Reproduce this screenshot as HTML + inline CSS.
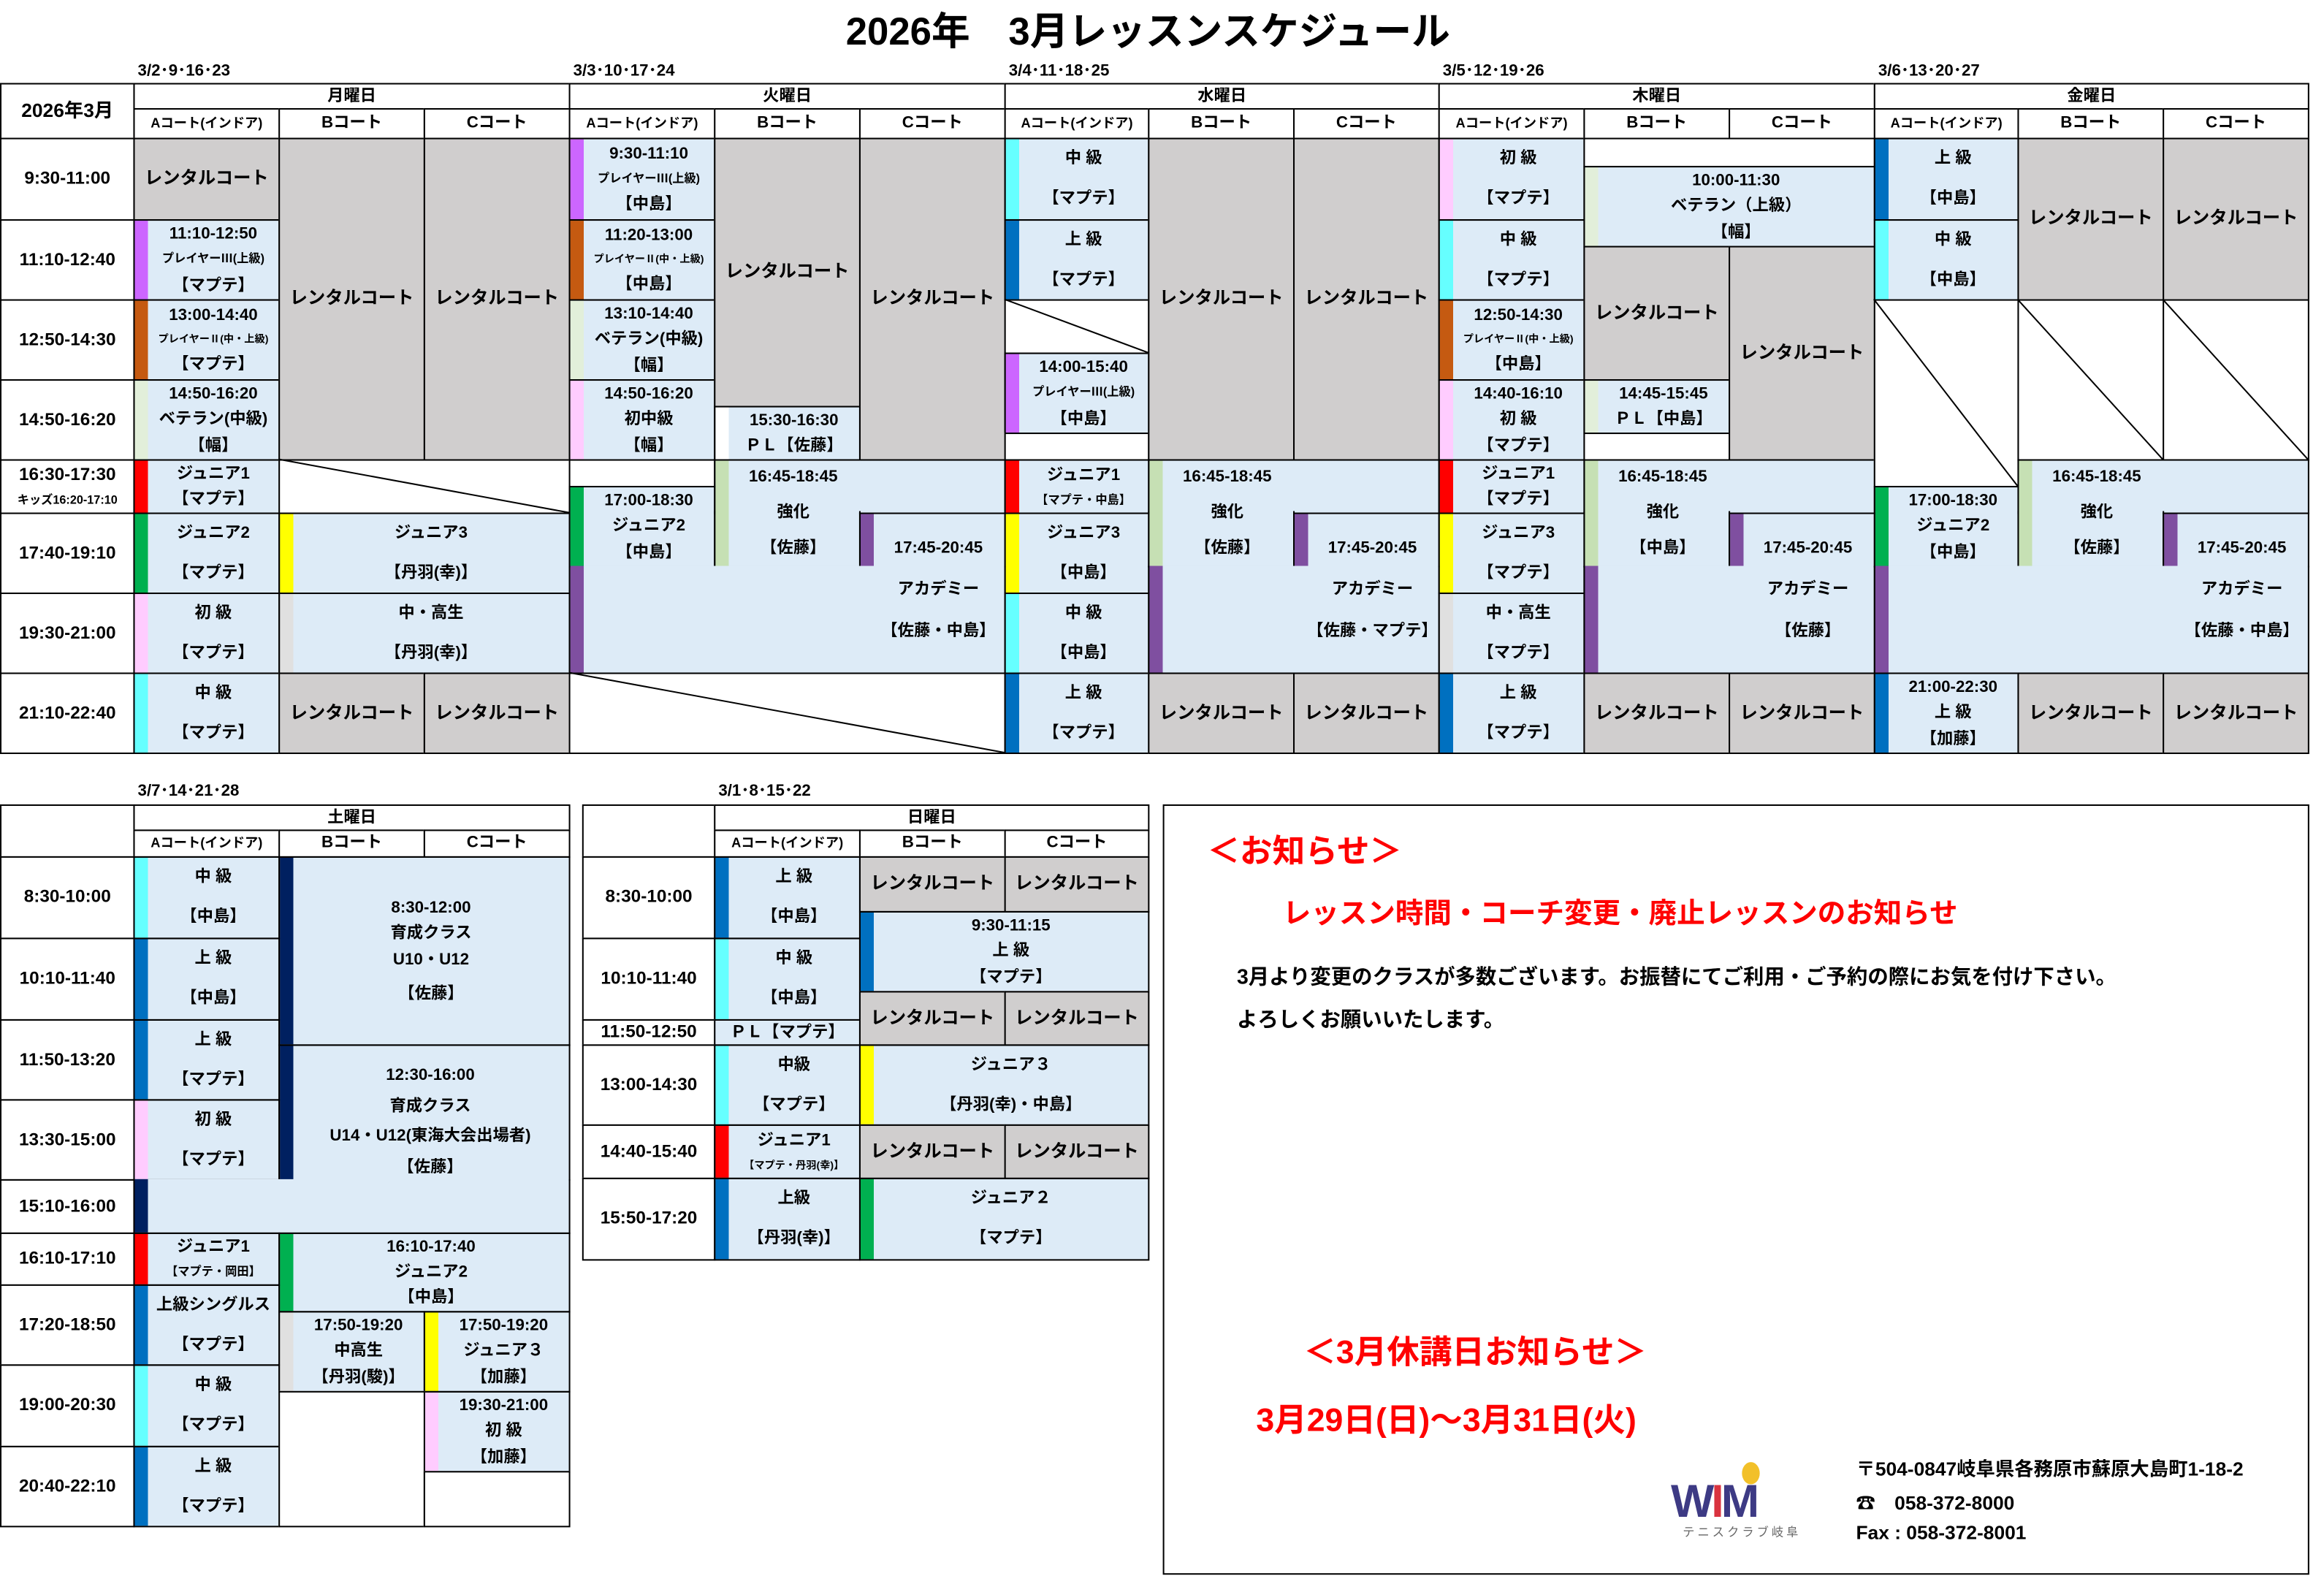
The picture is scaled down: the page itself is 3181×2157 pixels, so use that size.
<!DOCTYPE html>
<html><head><meta charset="utf-8"><style>
html,body{margin:0;padding:0;background:#fff;width:3181px;height:2156px;overflow:hidden}
#s{position:absolute;left:0;top:0;width:1569px;height:1064px;transform:scale(2.0275);transform-origin:0 0;font-family:"Liberation Sans","Noto Sans CJK JP",sans-serif;font-weight:bold;color:#000}
.c{position:absolute;box-sizing:border-box;border:1px solid #000;background:#ddebf7;display:flex;flex-direction:column;justify-content:space-around;align-items:center;text-align:center;font-size:11px;line-height:1.1;white-space:nowrap;overflow:hidden}
.t{position:absolute;display:flex;flex-direction:column;justify-content:space-around;align-items:center;text-align:center;font-size:11px;line-height:1.1;white-space:nowrap}
.w{background:#fff}.g{background:#d0cece;font-size:12px;justify-content:center}
.h{background:#fff;justify-content:center;font-size:12px}
.s{padding-left:9px}
.pu{background:linear-gradient(90deg,#cc66ff 9px,#ddebf7 9px)}
.or{background:linear-gradient(90deg,#c55a11 9px,#ddebf7 9px)}
.lg{background:linear-gradient(90deg,#e2efda 9px,#ddebf7 9px)}
.kg{background:linear-gradient(90deg,#c6e0b4 9px,#ddebf7 9px)}
.pk{background:linear-gradient(90deg,#ffccff 9px,#ddebf7 9px)}
.rd{background:linear-gradient(90deg,#ff0000 9px,#ddebf7 9px)}
.gr{background:linear-gradient(90deg,#00b050 9px,#ddebf7 9px)}
.ye{background:linear-gradient(90deg,#ffff00 9px,#ddebf7 9px)}
.ly{background:linear-gradient(90deg,#e0e0e0 9px,#ddebf7 9px)}
.cy{background:linear-gradient(90deg,#66ffff 9px,#ddebf7 9px)}
.bl{background:linear-gradient(90deg,#0070c0 9px,#ddebf7 9px)}
.na{background:linear-gradient(90deg,#002060 9px,#ddebf7 9px)}
.ac{background:linear-gradient(90deg,#7f4fa0 9px,#ddebf7 9px)}
.wh{background:linear-gradient(90deg,#ffffff 9px,#ddebf7 9px)}
.sm{font-size:8px}.xs{font-size:7px}
.dt{position:absolute;font-size:11px;top:39px}
.r{position:absolute;color:#f00;white-space:nowrap}
</style></head><body><div id="s">
<div style="position:absolute;left:0;width:1550px;top:1px;text-align:center;font-size:26px">2026年　3月レッスンスケジュール</div>
<div class="dt" style="left:93px">3/2･9･16･23</div>
<div class="dt" style="left:387px">3/3･10･17･24</div>
<div class="dt" style="left:681px">3/4･11･18･25</div>
<div class="dt" style="left:974px">3/5･12･19･26</div>
<div class="dt" style="left:1268px">3/6･13･20･27</div>

<div class="c h" style="left:0;top:56px;width:91px;height:38px;font-size:13px">2026年3月</div>
<div class="c h" style="left:90px;top:56px;width:295px;height:18px;font-size:11px">月曜日</div>
<div class="c h" style="left:384px;top:56px;width:295px;height:18px;font-size:11px">火曜日</div>
<div class="c h" style="left:678px;top:56px;width:294px;height:18px;font-size:11px">水曜日</div>
<div class="c h" style="left:971px;top:56px;width:295px;height:18px;font-size:11px">木曜日</div>
<div class="c h" style="left:1265px;top:56px;width:294px;height:18px;font-size:11px">金曜日</div>
<div class="c h" style="left:90px;top:73px;width:99px;height:21px;font-size:9px">Aコート(インドア)</div><div class="c h" style="left:188px;top:73px;width:99px;height:21px;font-size:11px">Bコート</div><div class="c h" style="left:286px;top:73px;width:99px;height:21px;font-size:11px">Cコート</div>
<div class="c h" style="left:384px;top:73px;width:99px;height:21px;font-size:9px">Aコート(インドア)</div><div class="c h" style="left:482px;top:73px;width:99px;height:21px;font-size:11px">Bコート</div><div class="c h" style="left:580px;top:73px;width:99px;height:21px;font-size:11px">Cコート</div>
<div class="c h" style="left:678px;top:73px;width:98px;height:21px;font-size:9px">Aコート(インドア)</div><div class="c h" style="left:775px;top:73px;width:99px;height:21px;font-size:11px">Bコート</div><div class="c h" style="left:873px;top:73px;width:99px;height:21px;font-size:11px">Cコート</div>
<div class="c h" style="left:971px;top:73px;width:99px;height:21px;font-size:9px">Aコート(インドア)</div><div class="c h" style="left:1069px;top:73px;width:99px;height:21px;font-size:11px">Bコート</div><div class="c h" style="left:1167px;top:73px;width:99px;height:21px;font-size:11px">Cコート</div>
<div class="c h" style="left:1265px;top:73px;width:98px;height:21px;font-size:9px">Aコート(インドア)</div><div class="c h" style="left:1362px;top:73px;width:99px;height:21px;font-size:11px">Bコート</div><div class="c h" style="left:1460px;top:73px;width:99px;height:21px;font-size:11px">Cコート</div>

<div class="c h" style="left:0;top:93px;width:91px;height:56px">9:30-11:00</div>
<div class="c h" style="left:0;top:148px;width:91px;height:55px">11:10-12:40</div>
<div class="c h" style="left:0;top:202px;width:91px;height:55px">12:50-14:30</div>
<div class="c h" style="left:0;top:256px;width:91px;height:55px">14:50-16:20</div>
<div class="c h" style="left:0;top:310px;width:91px;height:37px;justify-content:space-around">16:30-17:30<span style="font-size:8px">キッズ16:20-17:10</span></div>
<div class="c h" style="left:0;top:346px;width:91px;height:55px">17:40-19:10</div>
<div class="c h" style="left:0;top:400px;width:91px;height:55px">19:30-21:00</div>
<div class="c h" style="left:0;top:454px;width:91px;height:55px">21:10-22:40</div>

<div class="c g" style="left:90px;top:93px;width:99px;height:56px">レンタルコート</div>
<div class="c s pu" style="left:90px;top:148px;width:99px;height:55px"><span>11:10-12:50</span><span class="sm">プレイヤーⅢ(上級)</span><span>【マプテ】</span></div>
<div class="c s or" style="left:90px;top:202px;width:99px;height:55px"><span>13:00-14:40</span><span class="xs">プレイヤーⅡ(中・上級)</span><span>【マプテ】</span></div>
<div class="c s lg" style="left:90px;top:256px;width:99px;height:55px"><span>14:50-16:20</span><span>ベテラン(中級)</span><span>【幅】</span></div>
<div class="c g" style="left:188px;top:93px;width:99px;height:218px">レンタルコート</div>
<div class="c g" style="left:286px;top:93px;width:99px;height:218px">レンタルコート</div>
<div class="c s rd" style="left:90px;top:310px;width:99px;height:37px"><span>ジュニア1</span><span>【マプテ】</span></div>
<div class="c w" style="left:188px;top:310px;width:197px;height:37px"></div>
<div class="c s gr" style="left:90px;top:346px;width:99px;height:55px"><span>ジュニア2</span><span>【マプテ】</span></div>
<div class="c s ye" style="left:188px;top:346px;width:197px;height:55px"><span>ジュニア3</span><span>【丹羽(幸)】</span></div>
<div class="c s pk" style="left:90px;top:400px;width:99px;height:55px"><span>初 級</span><span>【マプテ】</span></div>
<div class="c s ly" style="left:188px;top:400px;width:197px;height:55px"><span>中・高生</span><span>【丹羽(幸)】</span></div>
<div class="c s cy" style="left:90px;top:454px;width:99px;height:55px"><span>中 級</span><span>【マプテ】</span></div>
<div class="c g" style="left:188px;top:454px;width:99px;height:55px">レンタルコート</div>
<div class="c g" style="left:286px;top:454px;width:99px;height:55px">レンタルコート</div>

<div class="c s pu" style="left:384px;top:93px;width:99px;height:56px"><span>9:30-11:10</span><span class="sm">プレイヤーⅢ(上級)</span><span>【中島】</span></div>
<div class="c s or" style="left:384px;top:148px;width:99px;height:55px"><span>11:20-13:00</span><span class="xs">プレイヤーⅡ(中・上級)</span><span>【中島】</span></div>
<div class="c s lg" style="left:384px;top:202px;width:99px;height:55px"><span>13:10-14:40</span><span>ベテラン(中級)</span><span>【幅】</span></div>
<div class="c s pk" style="left:384px;top:256px;width:99px;height:55px"><span>14:50-16:20</span><span>初中級</span><span>【幅】</span></div>
<div class="c g" style="left:482px;top:93px;width:99px;height:182px">レンタルコート</div>
<div class="c s wh" style="left:482px;top:274px;width:99px;height:37px"><span>15:30-16:30</span><span>ＰＬ【佐藤】</span></div>
<div class="c g" style="left:580px;top:93px;width:99px;height:218px">レンタルコート</div>
<div class="c w" style="left:384px;top:310px;width:99px;height:19px"></div>
<div class="c s gr" style="left:384px;top:328px;width:99px;height:55px"><span>17:00-18:30</span><span>ジュニア2</span><span>【中島】</span></div>
<div class="c s kg" style="left:482px;top:310px;width:197px;height:37px;border-bottom:none"></div>
<div class="c s kg" style="left:482px;top:345px;width:99px;height:38px;border-top:none"></div>
<div class="t" style="left:491px;top:310px;width:89px;height:72px"><span>16:45-18:45</span><span>強化</span><span>【佐藤】</span></div>
<div class="c s ac" style="left:580px;top:346px;width:99px;height:37px;border-bottom:none"></div>
<div class="c s ac" style="left:384px;top:382px;width:295px;height:73px;border-top:none"></div>
<div class="t" style="left:589px;top:356px;width:89px;height:84px"><span>17:45-20:45</span><span>アカデミー</span><span>【佐藤・中島】</span></div>
<div class="c w" style="left:384px;top:454px;width:295px;height:55px"></div>

<div class="c s cy" style="left:678px;top:93px;width:98px;height:56px"><span>中 級</span><span>【マプテ】</span></div>
<div class="c s bl" style="left:678px;top:148px;width:98px;height:55px"><span>上 級</span><span>【マプテ】</span></div>
<div class="c w" style="left:678px;top:202px;width:98px;height:37px"></div>
<div class="c s pu" style="left:678px;top:238px;width:98px;height:55px"><span>14:00-15:40</span><span class="sm">プレイヤーⅢ(上級)</span><span>【中島】</span></div>
<div class="c w" style="left:678px;top:292px;width:98px;height:19px"></div>
<div class="c g" style="left:775px;top:93px;width:99px;height:218px">レンタルコート</div>
<div class="c g" style="left:873px;top:93px;width:99px;height:218px">レンタルコート</div>
<div class="c s rd" style="left:678px;top:310px;width:98px;height:37px"><span>ジュニア1</span><span class="sm">【マプテ・中島】</span></div>
<div class="c s ye" style="left:678px;top:346px;width:98px;height:55px"><span>ジュニア3</span><span>【中島】</span></div>
<div class="c s cy" style="left:678px;top:400px;width:98px;height:55px"><span>中 級</span><span>【中島】</span></div>
<div class="c s bl" style="left:678px;top:454px;width:98px;height:55px"><span>上 級</span><span>【マプテ】</span></div>
<div class="c s kg" style="left:775px;top:310px;width:197px;height:37px;border-bottom:none"></div>
<div class="c s kg" style="left:775px;top:345px;width:99px;height:38px;border-top:none"></div>
<div class="t" style="left:784px;top:310px;width:89px;height:72px"><span>16:45-18:45</span><span>強化</span><span>【佐藤】</span></div>
<div class="c s ac" style="left:873px;top:346px;width:99px;height:37px;border-bottom:none"></div>
<div class="c s ac" style="left:775px;top:382px;width:197px;height:73px;border-top:none"></div>
<div class="t" style="left:882px;top:356px;width:89px;height:84px"><span>17:45-20:45</span><span>アカデミー</span><span>【佐藤・マプテ】</span></div>
<div class="c g" style="left:775px;top:454px;width:99px;height:55px">レンタルコート</div>
<div class="c g" style="left:873px;top:454px;width:99px;height:55px">レンタルコート</div>

<div class="c s pk" style="left:971px;top:93px;width:99px;height:56px"><span>初 級</span><span>【マプテ】</span></div>
<div class="c s cy" style="left:971px;top:148px;width:99px;height:55px"><span>中 級</span><span>【マプテ】</span></div>
<div class="c s or" style="left:971px;top:202px;width:99px;height:55px"><span>12:50-14:30</span><span class="xs">プレイヤーⅡ(中・上級)</span><span>【中島】</span></div>
<div class="c s pk" style="left:971px;top:256px;width:99px;height:55px"><span>14:40-16:10</span><span>初 級</span><span>【マプテ】</span></div>
<div class="c w" style="left:1069px;top:93px;width:197px;height:20px"></div>
<div class="c s lg" style="left:1069px;top:112px;width:197px;height:55px"><span>10:00-11:30</span><span>ベテラン（上級）</span><span>【幅】</span></div>
<div class="c g" style="left:1069px;top:166px;width:99px;height:91px">レンタルコート</div>
<div class="c s lg" style="left:1069px;top:256px;width:99px;height:37px"><span>14:45-15:45</span><span>ＰＬ【中島】</span></div>
<div class="c w" style="left:1069px;top:292px;width:99px;height:19px"></div>
<div class="c g" style="left:1167px;top:166px;width:99px;height:145px">レンタルコート</div>
<div class="c s rd" style="left:971px;top:310px;width:99px;height:37px"><span>ジュニア1</span><span>【マプテ】</span></div>
<div class="c s ye" style="left:971px;top:346px;width:99px;height:55px"><span>ジュニア3</span><span>【マプテ】</span></div>
<div class="c s ly" style="left:971px;top:400px;width:99px;height:55px"><span>中・高生</span><span>【マプテ】</span></div>
<div class="c s bl" style="left:971px;top:454px;width:99px;height:55px"><span>上 級</span><span>【マプテ】</span></div>
<div class="c s kg" style="left:1069px;top:310px;width:197px;height:37px;border-bottom:none"></div>
<div class="c s kg" style="left:1069px;top:345px;width:99px;height:38px;border-top:none"></div>
<div class="t" style="left:1078px;top:310px;width:89px;height:72px"><span>16:45-18:45</span><span>強化</span><span>【中島】</span></div>
<div class="c s ac" style="left:1167px;top:346px;width:99px;height:37px;border-bottom:none"></div>
<div class="c s ac" style="left:1069px;top:382px;width:197px;height:73px;border-top:none"></div>
<div class="t" style="left:1176px;top:356px;width:89px;height:84px"><span>17:45-20:45</span><span>アカデミー</span><span>【佐藤】</span></div>
<div class="c g" style="left:1069px;top:454px;width:99px;height:55px">レンタルコート</div>
<div class="c g" style="left:1167px;top:454px;width:99px;height:55px">レンタルコート</div>

<div class="c s bl" style="left:1265px;top:93px;width:98px;height:56px"><span>上 級</span><span>【中島】</span></div>
<div class="c s cy" style="left:1265px;top:148px;width:98px;height:55px"><span>中 級</span><span>【中島】</span></div>
<div class="c g" style="left:1362px;top:93px;width:99px;height:110px">レンタルコート</div>
<div class="c g" style="left:1460px;top:93px;width:99px;height:110px">レンタルコート</div>
<div class="c w" style="left:1265px;top:202px;width:98px;height:127px"></div>
<div class="c w" style="left:1362px;top:202px;width:99px;height:109px"></div>
<div class="c w" style="left:1460px;top:202px;width:99px;height:109px"></div>
<div class="c s gr" style="left:1265px;top:328px;width:98px;height:55px"><span>17:00-18:30</span><span>ジュニア2</span><span>【中島】</span></div>
<div class="c s kg" style="left:1362px;top:310px;width:197px;height:37px;border-bottom:none"></div>
<div class="c s kg" style="left:1362px;top:345px;width:99px;height:38px;border-top:none"></div>
<div class="t" style="left:1371px;top:310px;width:89px;height:72px"><span>16:45-18:45</span><span>強化</span><span>【佐藤】</span></div>
<div class="c s ac" style="left:1460px;top:346px;width:99px;height:37px;border-bottom:none"></div>
<div class="c s ac" style="left:1265px;top:382px;width:294px;height:73px;border-top:none"></div>
<div class="t" style="left:1469px;top:356px;width:89px;height:84px"><span>17:45-20:45</span><span>アカデミー</span><span>【佐藤・中島】</span></div>
<div class="c s bl" style="left:1265px;top:454px;width:98px;height:55px"><span>21:00-22:30</span><span>上 級</span><span>【加藤】</span></div>
<div class="c g" style="left:1362px;top:454px;width:99px;height:55px">レンタルコート</div>
<div class="c g" style="left:1460px;top:454px;width:99px;height:55px">レンタルコート</div>

<div class="dt" style="left:93px;top:525px">3/7･14･21･28</div>
<div class="c h" style="left:0;top:543px;width:91px;height:36px"></div>
<div class="c h" style="left:90px;top:543px;width:295px;height:18px;font-size:11px">土曜日</div>
<div class="c h" style="left:90px;top:560px;width:99px;height:19px;font-size:9px">Aコート(インドア)</div><div class="c h" style="left:188px;top:560px;width:99px;height:19px;font-size:11px">Bコート</div><div class="c h" style="left:286px;top:560px;width:99px;height:19px;font-size:11px">Cコート</div>
<div class="c h" style="left:0;top:578px;width:91px;height:56px">8:30-10:00</div>
<div class="c h" style="left:0;top:633px;width:91px;height:56px">10:10-11:40</div>
<div class="c h" style="left:0;top:688px;width:91px;height:55px">11:50-13:20</div>
<div class="c h" style="left:0;top:742px;width:91px;height:55px">13:30-15:00</div>
<div class="c h" style="left:0;top:796px;width:91px;height:37px">15:10-16:00</div>
<div class="c h" style="left:0;top:832px;width:91px;height:36px">16:10-17:10</div>
<div class="c h" style="left:0;top:867px;width:91px;height:55px">17:20-18:50</div>
<div class="c h" style="left:0;top:921px;width:91px;height:56px">19:00-20:30</div>
<div class="c h" style="left:0;top:976px;width:91px;height:55px">20:40-22:10</div>
<div class="c s cy" style="left:90px;top:578px;width:99px;height:56px"><span>中 級</span><span>【中島】</span></div>
<div class="c s bl" style="left:90px;top:633px;width:99px;height:56px"><span>上 級</span><span>【中島】</span></div>
<div class="c s bl" style="left:90px;top:688px;width:99px;height:55px"><span>上 級</span><span>【マプテ】</span></div>
<div class="c s pk" style="left:90px;top:742px;width:99px;height:55px"><span>初 級</span><span>【マプテ】</span></div>
<div class="c s na" style="left:188px;top:578px;width:197px;height:128px;justify-content:center;gap:5px"><span>8:30-12:00</span><span>育成クラス</span><span>U10・U12</span><span style="margin-top:6px">【佐藤】</span></div>
<div class="c s na" style="left:188px;top:705px;width:197px;height:92px;border-bottom:none"></div>
<div class="c s na" style="left:90px;top:796px;width:295px;height:37px;border-top:none"></div>
<div class="t" style="left:197px;top:720px;width:187px;height:74px;justify-content:space-between"><span>12:30-16:00</span><span>育成クラス</span><span>U14・U12(東海大会出場者)</span><span>【佐藤】</span></div>
<div class="c s rd" style="left:90px;top:832px;width:99px;height:36px"><span>ジュニア1</span><span class="sm">【マプテ・岡田】</span></div>
<div class="c s bl" style="left:90px;top:867px;width:99px;height:55px"><span>上級シングルス</span><span>【マプテ】</span></div>
<div class="c s cy" style="left:90px;top:921px;width:99px;height:56px"><span>中 級</span><span>【マプテ】</span></div>
<div class="c s bl" style="left:90px;top:976px;width:99px;height:55px"><span>上 級</span><span>【マプテ】</span></div>
<div class="c s gr" style="left:188px;top:832px;width:197px;height:54px"><span>16:10-17:40</span><span>ジュニア2</span><span>【中島】</span></div>
<div class="c s ly" style="left:188px;top:885px;width:99px;height:55px"><span>17:50-19:20</span><span>中高生</span><span>【丹羽(駿)】</span></div>
<div class="c s ye" style="left:286px;top:885px;width:99px;height:55px"><span>17:50-19:20</span><span>ジュニア３</span><span>【加藤】</span></div>
<div class="c s pk" style="left:286px;top:939px;width:99px;height:55px"><span>19:30-21:00</span><span>初 級</span><span>【加藤】</span></div>
<div class="c w" style="left:188px;top:939px;width:99px;height:92px"></div>
<div class="c w" style="left:286px;top:993px;width:99px;height:38px"></div>

<div class="dt" style="left:485px;top:525px">3/1･8･15･22</div>
<div class="c h" style="left:393px;top:543px;width:90px;height:36px"></div>
<div class="c h" style="left:482px;top:543px;width:294px;height:18px;font-size:11px">日曜日</div>
<div class="c h" style="left:482px;top:560px;width:99px;height:19px;font-size:9px">Aコート(インドア)</div><div class="c h" style="left:580px;top:560px;width:99px;height:19px;font-size:11px">Bコート</div><div class="c h" style="left:678px;top:560px;width:98px;height:19px;font-size:11px">Cコート</div>
<div class="c h" style="left:393px;top:578px;width:90px;height:56px">8:30-10:00</div>
<div class="c h" style="left:393px;top:633px;width:90px;height:56px">10:10-11:40</div>
<div class="c h" style="left:393px;top:688px;width:90px;height:18px">11:50-12:50</div>
<div class="c h" style="left:393px;top:705px;width:90px;height:55px">13:00-14:30</div>
<div class="c h" style="left:393px;top:759px;width:90px;height:37px">14:40-15:40</div>
<div class="c h" style="left:393px;top:795px;width:90px;height:56px">15:50-17:20</div>
<div class="c s bl" style="left:482px;top:578px;width:99px;height:56px"><span>上 級</span><span>【中島】</span></div>
<div class="c s cy" style="left:482px;top:633px;width:99px;height:56px"><span>中 級</span><span>【中島】</span></div>
<div class="c" style="left:482px;top:688px;width:99px;height:18px">ＰＬ【マプテ】</div>
<div class="c s cy" style="left:482px;top:705px;width:99px;height:55px"><span>中級</span><span>【マプテ】</span></div>
<div class="c s rd" style="left:482px;top:759px;width:99px;height:37px"><span>ジュニア1</span><span class="xs">【マプテ・丹羽(幸)】</span></div>
<div class="c s bl" style="left:482px;top:795px;width:99px;height:56px"><span>上級</span><span>【丹羽(幸)】</span></div>
<div class="c g" style="left:580px;top:578px;width:99px;height:38px">レンタルコート</div>
<div class="c g" style="left:678px;top:578px;width:98px;height:38px">レンタルコート</div>
<div class="c s bl" style="left:580px;top:615px;width:196px;height:55px"><span>9:30-11:15</span><span>上 級</span><span>【マプテ】</span></div>
<div class="c g" style="left:580px;top:669px;width:99px;height:37px">レンタルコート</div>
<div class="c g" style="left:678px;top:669px;width:98px;height:37px">レンタルコート</div>
<div class="c s ye" style="left:580px;top:705px;width:196px;height:55px"><span>ジュニア３</span><span>【丹羽(幸)・中島】</span></div>
<div class="c g" style="left:580px;top:759px;width:99px;height:37px">レンタルコート</div>
<div class="c g" style="left:678px;top:759px;width:98px;height:37px">レンタルコート</div>
<div class="c s gr" style="left:580px;top:795px;width:196px;height:56px"><span>ジュニア２</span><span>【マプテ】</span></div>

<svg style="position:absolute;left:0;top:0" width="1569" height="1064">
<g stroke="#000" stroke-width="1">
<line x1="188" y1="310" x2="384" y2="346"/>
<line x1="384" y1="454" x2="678" y2="508"/>
<line x1="678" y1="202" x2="775" y2="238"/>
<line x1="1265" y1="202" x2="1362" y2="328"/>
<line x1="1362" y1="202" x2="1460" y2="310"/>
<line x1="1460" y1="202" x2="1558" y2="310"/>
</g>
</svg>

<div style="position:absolute;left:785px;top:543px;width:774px;height:520px;box-sizing:border-box;border:1.5px solid #000"></div>
<div class="r" style="left:815px;top:557px;font-size:22px">＜お知らせ＞</div>
<div class="r" style="left:866px;top:602px;font-size:19px">レッスン時間・コーチ変更・廃止レッスンのお知らせ</div>
<div style="position:absolute;left:835px;top:649px;font-size:14px;white-space:nowrap">3月より変更のクラスが多数ございます。お振替にてご利用・ご予約の際にお気を付け下さい。</div>
<div style="position:absolute;left:835px;top:678px;font-size:14px;white-space:nowrap">よろしくお願いいたします。</div>
<div class="r" style="left:880px;top:895px;font-size:22px">＜3月休講日お知らせ＞</div>
<div class="r" style="left:848px;top:941px;font-size:22px">3月29日(日)～3月31日(火)</div>
<div style="position:absolute;left:1176px;top:987px;width:12px;height:15px;border-radius:50%;background:#f2c029"></div>
<div style="position:absolute;left:1128px;top:996px;font-size:31px;color:#3d3a84;letter-spacing:-2px;font-family:'Liberation Sans',sans-serif;font-weight:900">W<span style="color:#d9333f">I</span>M</div>
<div style="position:absolute;left:1136px;top:1029px;font-size:8px;color:#666;font-weight:normal;letter-spacing:2px">テニスクラブ岐阜</div>
<div style="position:absolute;left:1253px;top:981px;font-size:13px;white-space:nowrap">〒504-0847岐阜県各務原市蘇原大島町1-18-2</div>
<div style="position:absolute;left:1253px;top:1004px;font-size:13px;white-space:nowrap">☎　058-372-8000</div>
<div style="position:absolute;left:1253px;top:1027px;font-size:13px;white-space:nowrap">Fax : 058-372-8001</div>
</div></body></html>
